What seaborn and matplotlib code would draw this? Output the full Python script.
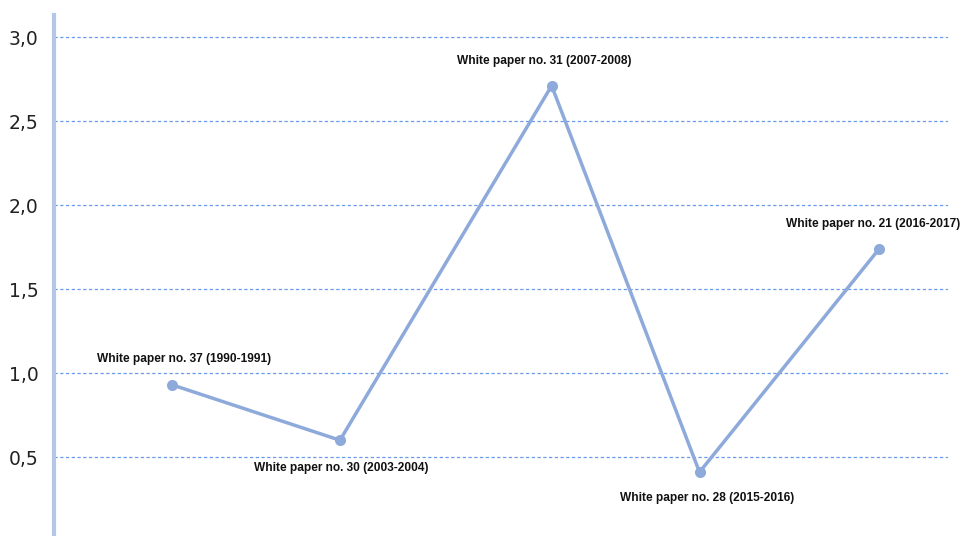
import matplotlib
matplotlib.use("Agg")
import matplotlib.pyplot as plt
import seaborn as sns
import pandas as pd
from matplotlib.ticker import FuncFormatter

# Data
labels = [
    "White paper no. 37 (1990-1991)",
    "White paper no. 30 (2003-2004)",
    "White paper no. 31 (2007-2008)",
    "White paper no. 28 (2015-2016)",
    "White paper no. 21 (2016-2017)",
]
x_pos = [0.0, 1.0, 2.26, 3.14, 4.21]
values = [0.93, 0.60, 2.71, 0.41, 1.74]
y_ticks = [0.5, 1.0, 1.5, 2.0, 2.5, 3.0]

df = pd.DataFrame({"x": x_pos, "value": values, "label": labels})

sns.set_theme(style="white")
plt.rcParams["font.family"] = ["DejaVu Sans"]

fig = plt.figure(figsize=(9.62, 5.36), dpi=100)
ax = fig.add_axes([54 / 962, 0.0, (948 - 54) / 962, (536 - 15) / 536])

line_color = "#8eaadb"
sns.lineplot(data=df, x="x", y="value", ax=ax, color=line_color, linewidth=2.5,
             marker="o", markersize=8, markeredgewidth=0, markerfacecolor=line_color)

ax.set_xlim(-0.702, 4.619)
ax.set_ylim(0.03, 3.131)
ax.set_yticks(y_ticks)
ax.yaxis.set_major_formatter(FuncFormatter(lambda v, p: f"{v:.1f}".replace(".", ",")))
ax.set_xticks([])
ax.set_xlabel("")
ax.set_ylabel("")
ax.tick_params(axis="y", length=0, pad=11, labelsize=13.5, labelcolor="#222222")

for yv in y_ticks:
    ax.axhline(yv, color="#6a98ea", linewidth=0.9, linestyle=(0, (2.6, 2.0)), zorder=0)

for s in ["top", "right", "bottom"]:
    ax.spines[s].set_visible(False)
ax.spines["left"].set_color("#b4c7e7")
ax.spines["left"].set_linewidth(3)

offsets = [(12, 26), (1, -28), (-7, 25), (8, -26), (-6, 25)]
for (xv, yv, lab), off in zip(zip(x_pos, values, labels), offsets):
    ax.annotate(lab, (xv, yv), xytext=off, textcoords="offset pixels",
                ha="center", va="center", fontsize=8.6, fontweight="bold",
                color="#111111", family=["Liberation Sans", "DejaVu Sans"])

fig.savefig("out.png", dpi=100)
